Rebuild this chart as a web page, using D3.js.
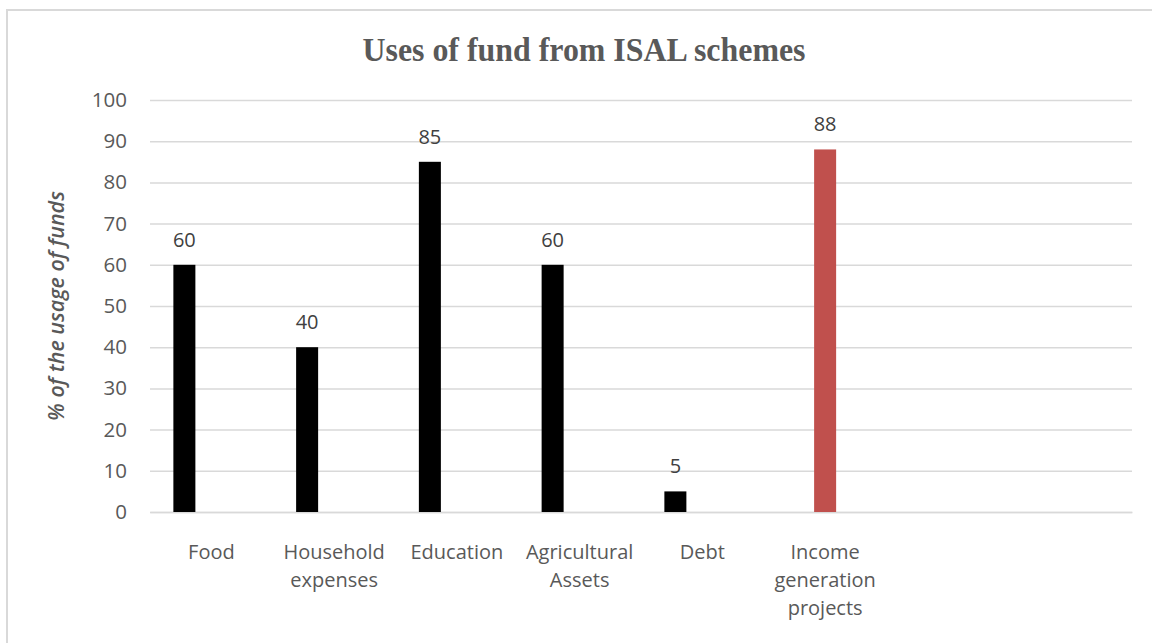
<!DOCTYPE html>
<html>
<head>
<meta charset="utf-8">
<script src="https://cdn.jsdelivr.net/npm/d3@7"></script>
<style>
  html, body { margin: 0; padding: 0; background: #fff; }
  svg { display: block; }
</style>
</head>
<body>
<svg id="chart" width="1152" height="643"></svg>
<script>
// Categories shown on the x axis (two trailing slots are left empty)
const categories = ["Food", "Household expenses", "Education", "Agricultural Assets", "Debt", "Income generation projects"];
const categoryLines = [["Food"], ["Household", "expenses"], ["Education"], ["Agricultural", "Assets"], ["Debt"], ["Income", "generation", "projects"]];
const emptySlots = ["slot7", "slot8"];

// Series values (percent); null where a series has no bar
const usesValues = [60, 40, 85, 60, 5, null];
const incomeValues = [null, null, null, null, null, 88];
const seriesSlots = ["Series1", "Series2", "Series3"];

const yTicks = [0, 10, 20, 30, 40, 50, 60, 70, 80, 90, 100];
const titleText = "Uses of fund from ISAL schemes";
const yTitleText = "% of the usage of funds";

const svg = d3.select("#chart");
const margin = { left: 150, right: 20, top: 100, bottom: 131 };
const W = 1152, H = 643;

// Outer chart frame
svg.append("rect")
  .attr("x", 7).attr("y", 10)
  .attr("width", 1160).attr("height", 650)
  .attr("fill", "#fff")
  .attr("stroke", "#d9d9d9").attr("stroke-width", 2);

const x0 = d3.scaleBand()
  .domain(categories.concat(emptySlots))
  .range([margin.left, W - margin.right])
  .paddingInner(0).paddingOuter(0);

const bw = x0.bandwidth();
const x1 = d3.scaleBand()
  .domain(seriesSlots)
  .range([bw / 2 - 40.5, bw / 2 + 40.5])
  .paddingInner(0.185).paddingOuter(0.0925);

const y = d3.scaleLinear().domain([0, 100]).range([H - margin.bottom, margin.top]);

// Gridlines and y tick labels
const yAxis = d3.axisLeft(y).tickValues(yTicks)
  .tickSize(-(W - margin.left - margin.right)).tickPadding(23);
const gy = svg.append("g").attr("transform", `translate(${margin.left},0)`).call(yAxis);
gy.select(".domain").remove();
gy.selectAll(".tick line").attr("stroke", "#d9d9d9").attr("stroke-width", 1.5);
gy.selectAll(".tick text")
  .attr("fill", "#595959")
  .style("font-family", "'Open Sans', sans-serif")
  .style("font-size", "20.5px");

// X axis labels (wrapped onto lines)
const xAxis = d3.axisBottom(x0).tickSize(0).tickFormat("");
const gx = svg.append("g").attr("transform", `translate(0,${y(0)})`).call(xAxis);
gx.select(".domain").attr("stroke", "#d9d9d9").attr("stroke-width", 1.5);

const labelG = svg.append("g");
categories.forEach((c, i) => {
  const t = labelG.append("text")
    .attr("x", x0(c) + bw / 2)
    .attr("y", y(0) + 47)
    .attr("text-anchor", "middle")
    .attr("fill", "#595959")
    .style("font-family", "'Open Sans', sans-serif")
    .style("font-size", "20px");
  categoryLines[i].forEach((line, j) => {
    t.append("tspan").attr("x", x0(c) + bw / 2).attr("dy", j === 0 ? 0 : 28).text(line);
  });
});

// Bars
const seriesData = [
  { slot: "Series1", values: usesValues, color: "#000000" },
  { slot: "Series2", values: incomeValues, color: "#C0504D" }
];

seriesData.forEach(s => {
  const pts = categories.map((c, i) => ({ c, v: s.values[i] })).filter(d => d.v != null);
  svg.append("g").selectAll("rect").data(pts).join("rect")
    .attr("x", d => x0(d.c) + x1(s.slot))
    .attr("y", d => y(d.v))
    .attr("width", x1.bandwidth())
    .attr("height", d => y(0) - y(d.v))
    .attr("fill", s.color);
  svg.append("g").selectAll("text").data(pts).join("text")
    .attr("x", d => x0(d.c) + x1(s.slot) + x1.bandwidth() / 2)
    .attr("y", d => y(d.v) - 18)
    .attr("text-anchor", "middle")
    .attr("fill", "#404040")
    .style("font-family", "'Open Sans', sans-serif")
    .style("font-size", "20px")
    .text(d => d.v);
});

// Chart title
svg.append("text")
  .attr("x", 584).attr("y", 61)
  .attr("text-anchor", "middle")
  .attr("fill", "#595959")
  .attr("textLength", 443)
  .attr("lengthAdjust", "spacingAndGlyphs")
  .style("font-family", "'Liberation Serif', serif")
  .style("font-weight", "bold")
  .style("font-size", "34px")
  .text(titleText);

// Y axis title
svg.append("text")
  .attr("transform", `translate(64,${(y(0) + y(100)) / 2}) rotate(-90)`)
  .attr("text-anchor", "middle")
  .attr("fill", "#595959")
  .style("font-family", "'Open Sans', sans-serif")
  .style("font-style", "italic")
  .style("font-weight", "600")
  .style("font-size", "21.5px")
  .text(yTitleText);
</script>
</body>
</html>
